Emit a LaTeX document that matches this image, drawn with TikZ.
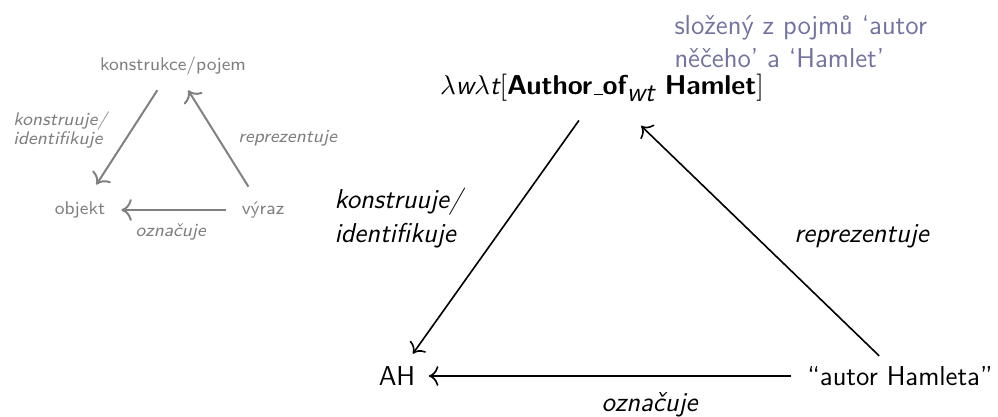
\documentclass[tikz,border=0pt]{standalone}
\renewcommand{\familydefault}{\sfdefault}
\usetikzlibrary{arrows.meta}
\definecolor{notecolor}{RGB}{115,115,160}
\newcommand{\thinus}{\kern.06em\rule{.32em}{.45pt}}
\begin{document}
\begin{tikzpicture}[x=0.403pt,y=-0.403pt,>={To[scale=1.25]},
    big/.style={font=\fontsize{11}{13.4}\selectfont},
    small/.style={font=\fontsize{7.4}{7.9}\selectfont,text=black!50},
    lbl/.style={inner sep=0pt,align=left},
    rel/.style={->,line width=0.65pt},
    smallrel/.style={->,line width=0.8pt,draw=black!50}]
  \useasboundingbox (0,0) rectangle (998,417);
  % small triangle
  \draw[small]
    (173,66) node (kp){konstrukce/pojem}
    (80,210) node (obj){objekt}
    (263,210) node (vyr){výraz};
  \draw[small]
    (13,130) node[lbl,anchor=west] (kpobj){\textit{konstruuje/}\\\textit{identifikuje}}
    (288,138) node[lbl] (vyrkp){\textit{reprezentuje}}
    (171,232) node[lbl] (vyrobj){\textit{označuje}};
  \begin{scope}[smallrel]
    \draw[shorten <=3pt,shorten >=4pt] (kp) to (obj);
    \draw[shorten <=3pt,shorten >=3pt] (vyr) to (kp);
    \draw[shorten <=3pt,shorten >=3pt] (vyr) to (obj);
  \end{scope}
  % big triangle
  \draw[big]
    (602,88) node (top){$\lambda\textit{w}\lambda\textit{t}[\textbf{Author\thinus of}_{\textit{wt}}\ \textbf{Hamlet}]$}
    (397,376) node (AH){AH}
    (900,376) node (autor){“autor Hamleta”};
  \draw[big]
    (334,218) node[lbl,anchor=west] (topAH){\textit{konstruuje/}\\\textit{identifikuje}}
    (862,236) node[lbl] (autortop){\textit{reprezentuje}}
    (650,405) node[lbl] (autorAH){\textit{označuje}}
    (674,42) node[lbl,anchor=west,text=notecolor] (note){složený z pojmů ‘autor\\něčeho’ a ‘Hamlet’};
  \begin{scope}[rel]
    \draw[shorten <=5pt,shorten >=2pt] (top) to (AH);
    \draw[shorten <=1pt,shorten >=9pt] (autor) to (top);
    \draw[shorten <=3pt,shorten >=2pt] (autor) to (AH);
  \end{scope}
\end{tikzpicture}
\end{document}
